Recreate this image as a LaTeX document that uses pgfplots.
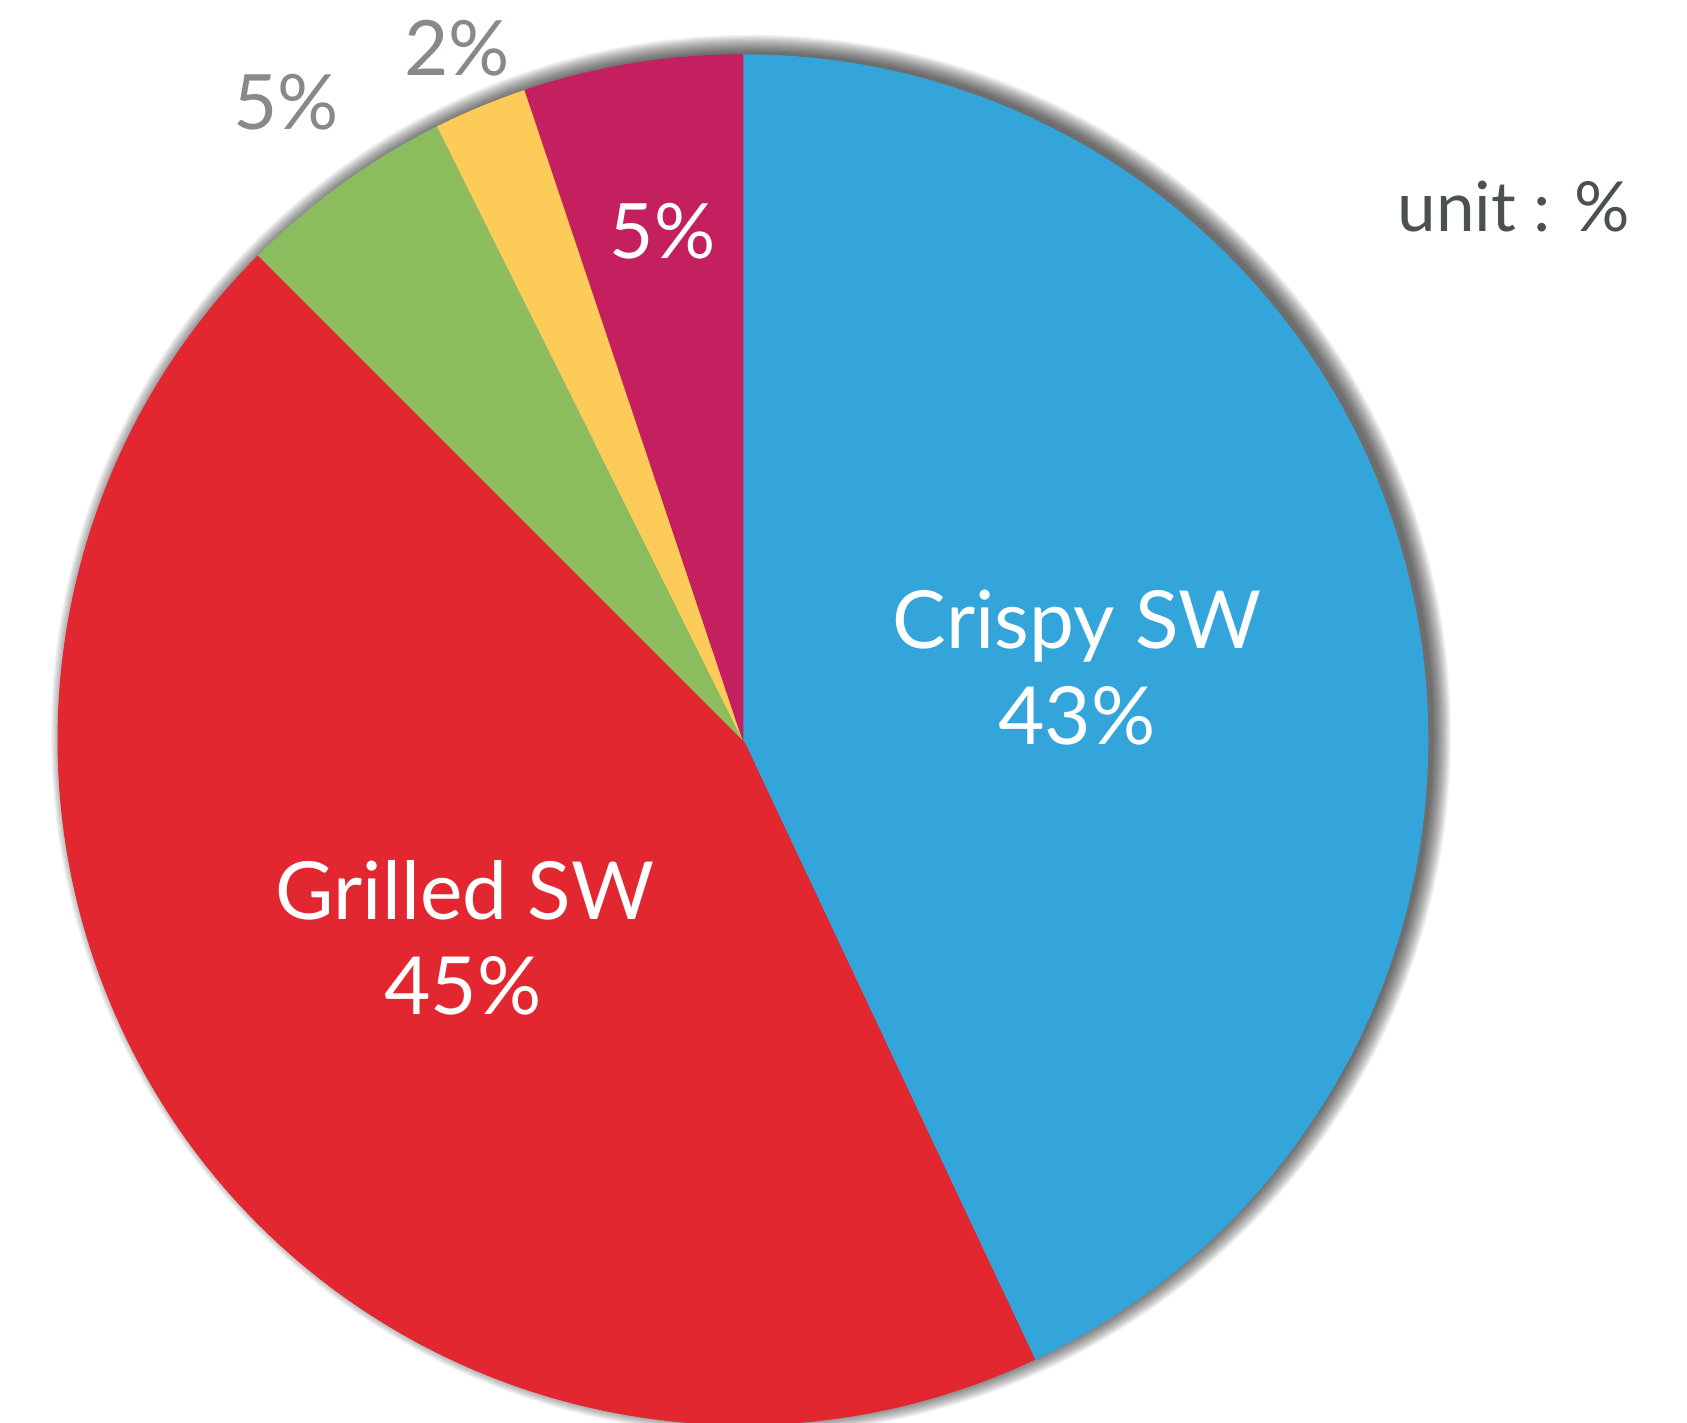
\documentclass[border=0pt]{standalone}
\usepackage{pgfplots}
\pgfplotsset{compat=1.18}
\usepackage{pgfplotstable}
\usepackage{fontspec}
\setmainfont{Lato}

\definecolor{crispy}{HTML}{34A5DA}
\definecolor{grilled}{HTML}{E22731}
\definecolor{slicegreen}{HTML}{8BBD5F}
\definecolor{sliceyellow}{HTML}{FDCB58}
\definecolor{slicemagenta}{HTML}{C41F5F}
\definecolor{outlabel}{HTML}{878A8A}
\definecolor{unitgray}{HTML}{4B5050}

% shares in %, clockwise from 12 o'clock
\pgfplotstableread{
name      value  color
Crispy    43.0   crispy
Grilled   44.5   grilled
Other1    5.15   slicegreen
Other2    2.2    sliceyellow
Other3    5.15   slicemagenta
}\piedata

\begin{document}
\begin{tikzpicture}
\begin{axis}[
  scale only axis,
  width=15.68cm, height=13.22cm,
  xmin=0, xmax=1568, ymin=0, ymax=1322,
  hide axis,
]
\pgfplotsextra{
  % soft shadow, pushed up and to the right
  \foreach \k in {16,15,...,1}{
    \pgfmathsetlengthmacro\rr{6.33cm+\k*0.011cm}
    \fill[black, fill opacity=0.05] (axis cs:698,639) circle[radius=\rr];
  }
  % slices
  \gdef\angA{90}
  \foreach \i in {0,...,4}{
    \pgfplotstablegetelem{\i}{value}\of\piedata \let\val\pgfplotsretval
    \pgfplotstablegetelem{\i}{color}\of\piedata \let\col\pgfplotsretval
    \pgfmathsetmacro\angB{\angA-3.6*\val}
    \fill[fill=\col, draw=\col, line width=0.3pt]
      (axis cs:690.5,634.5) -- ++(\angA:6.365cm)
      arc[start angle=\angA, end angle=\angB, radius=6.365cm] -- cycle;
    \global\let\angA\angB
  }
}
\tikzset{lab/.style={anchor=base, inner sep=0pt, font=\fontsize{21.2}{25}\selectfont},
         small/.style={anchor=base, inner sep=0pt, font=\fontsize{20.2}{24}\selectfont}}
\node[lab, white] at (axis cs:1001,719) {Crispy SW};
\node[lab, white] at (axis cs:1001,630) {43\%};
\node[lab, white] at (axis cs:432,467) {Grilled SW};
\node[lab, white] at (axis cs:430,379) {45\%};
\node[small, white] at (axis cs:616,1082) {5\%};
\node[small, outlabel] at (axis cs:266,1202) {5\%};
\node[small, outlabel] at (axis cs:425,1252) {2\%};
\node[anchor=base, inner sep=0pt, unitgray, font=\fontsize{18.3}{22}\selectfont]
  at (axis cs:1407,1107) {unit : \%};
\end{axis}
\pgfresetboundingbox
\useasboundingbox (current axis.south west) rectangle (current axis.north east);
\end{tikzpicture}
\end{document}
